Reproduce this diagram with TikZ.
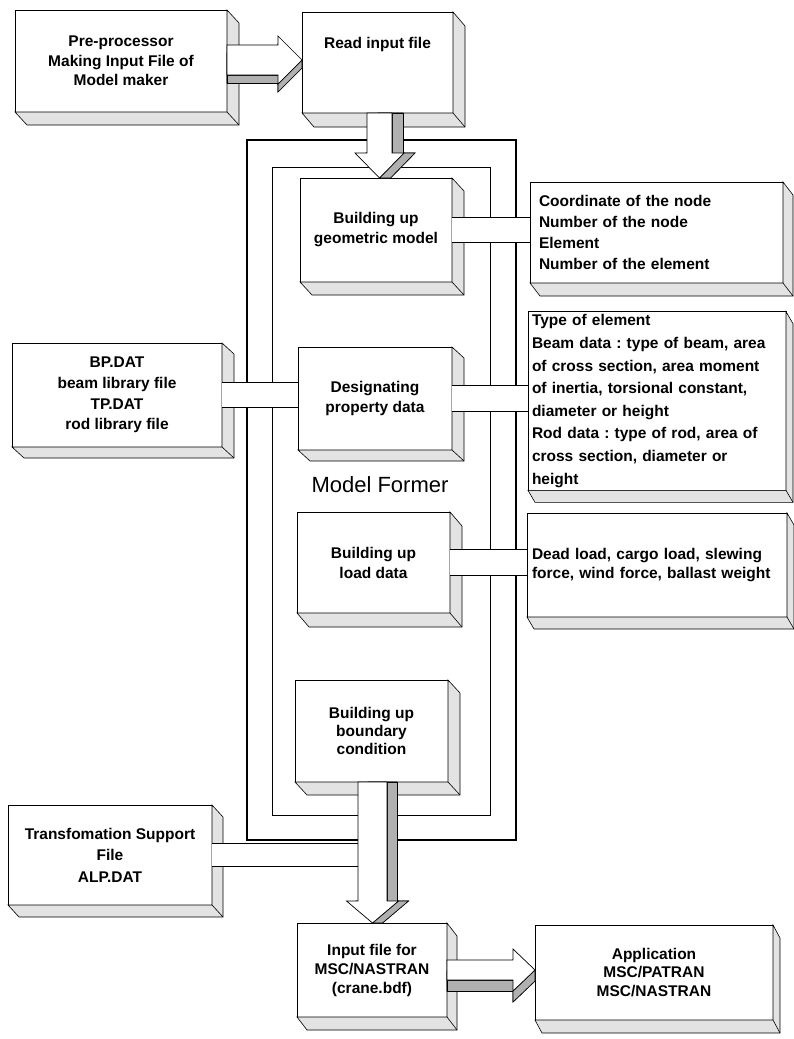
\documentclass[tikz,border=0pt]{standalone}
\usepackage{fontspec}
\setmainfont{Liberation Sans}
\usetikzlibrary{calc}
\frenchspacing
\tikzset{
  box/.style={draw=black, line width=0.9pt, fill=white, inner sep=3pt, outer sep=0pt,
    align=center, font=\bfseries\fontsize{15.5}{20}\selectfont},
  bls/.style={font=\bfseries\fontsize{15.5}{#1}\selectfont},
  extside/.style={fill=gray!22, draw=black, line width=0.6pt},
  arrdark/.style={fill=gray!62, draw=black, line width=0.6pt},
  arrfront/.style={fill=white, draw=black, line width=0.7pt},
  bandline/.style={draw=black, line width=0.8pt},
}
% 3D extrusion of a box node: right and bottom faces
\newcommand\extr[3]{%
  \filldraw[extside] (#1.north east) -- ++(#2,#3) -- ($(#1.south east)+(#2,#3)$)
    -- ($(#1.south west)+(#2,#3)$) -- (#1.south west) -- (#1.south east) -- cycle;
  \draw[line width=0.6pt] (#1.south east) -- ++(#2,#3);
}
% horizontal band connector between a node and a target
\newcommand\hband[3]{%
  \coordinate (ba) at ($(#1.east)+(0,-#3)$);
  \coordinate (bb) at ($(#1.east)+(0,#3)$);
  \fill[white] (ba) rectangle (bb -| #2);
  \draw[bandline] (ba) -- (ba -| #2) (bb) -- (bb -| #2);
}
% 3D block arrow pointing down
\newcommand\arrowD[7]{%
  \coordinate (T) at ($(#1)+(#7,0)$);
  \coordinate (A) at (#2 -| T);
  \coordinate (H) at ($(A)+(0,-#5)$);
  \coordinate (p1) at ($(T)+(-#3,0)$);
  \coordinate (p2) at ($(T)+(#3,0)$);
  \coordinate (p3) at ($(H)+(#3,0)$);
  \coordinate (p4) at ($(H)+(#4,0)$);
  \coordinate (p5) at (A);
  \coordinate (p6) at ($(H)+(-#4,0)$);
  \coordinate (p7) at ($(H)+(-#3,0)$);
  \coordinate (dd) at (#6,0);
  \filldraw[arrdark] ($(p1)+(dd)$) -- ($(p2)+(dd)$) -- ($(p3)+(dd)$) -- ($(p4)+(dd)$)
    -- ($(p5)+(dd)$) -- ($(p6)+(dd)$) -- ($(p7)+(dd)$) -- cycle;
  \filldraw[arrdark] (p2) -- ($(p2)+(dd)$) -- ($(p3)+(dd)$) -- (p3) -- cycle;
  \filldraw[arrdark] (p4) -- ($(p4)+(dd)$) -- ($(p5)+(dd)$) -- (p5) -- cycle;
  \filldraw[arrfront] (p1) -- (p2) -- (p3) -- (p4) -- (p5) -- (p6) -- (p7) -- cycle;
}
% 3D block arrow pointing right
\newcommand\arrowR[7]{%
  \coordinate (T) at ($(#1)+(0,#7)$);
  \coordinate (A) at (T -| #2);
  \coordinate (H) at ($(A)+(-#5,0)$);
  \coordinate (p1) at ($(T)+(0,-#3)$);
  \coordinate (p2) at ($(H)+(0,-#3)$);
  \coordinate (p3) at ($(H)+(0,-#4)$);
  \coordinate (p4) at (A);
  \coordinate (p5) at ($(H)+(0,#4)$);
  \coordinate (p6) at ($(H)+(0,#3)$);
  \coordinate (p7) at ($(T)+(0,#3)$);
  \coordinate (dd) at (0,#6);
  \filldraw[arrdark] ($(p1)+(dd)$) -- ($(p2)+(dd)$) -- ($(p3)+(dd)$) -- ($(p4)+(dd)$)
    -- ($(p5)+(dd)$) -- ($(p6)+(dd)$) -- ($(p7)+(dd)$) -- cycle;
  \filldraw[arrdark] (p6) -- ($(p6)+(dd)$) -- ($(p7)+(dd)$) -- (p7) -- cycle;
  \filldraw[arrdark] (p4) -- ($(p4)+(dd)$) -- ($(p5)+(dd)$) -- (p5) -- cycle;
  \filldraw[arrfront] (p1) -- (p2) -- (p3) -- (p4) -- (p5) -- (p6) -- (p7) -- cycle;
}
\begin{document}
\begin{tikzpicture}[x=1pt,y=-1pt]
\fill[white] (0,0) rectangle (794,1039);
\useasboundingbox (0,0) rectangle (794,1039);

% Model Former frame
\node[draw=black, line width=1.8pt, minimum width=269, minimum height=700, outer sep=0pt] (frameout) at (381.5,490) {};
\node[draw=black, line width=0.9pt, minimum width=218, minimum height=648, outer sep=0pt] (framein) at (381,491) {};

% boxes
\node[box, bls=19.5, minimum width=212, minimum height=102] (pre) at (121,61) {Pre-processor\\Making Input File of\\Model maker};
\node[box, minimum width=151, minimum height=101] (read) at (377.5,62.5) {};
\node[anchor=base, font=\bfseries\fontsize{15.5}{20}\selectfont] (readtxt) at (377.5,48) {Read input file};

\node[box, bls=20, minimum width=152, minimum height=104] (geo) at (376,230) {Building up\\geometric model};
\node[box, bls=20, minimum width=154, minimum height=103] (desig) at (375,398.5) {Designating\\property data};
\node[box, bls=20, minimum width=153, minimum height=101] (load) at (373.5,562.5) {Building up\\load data};
\node[box, bls=18, minimum width=153, minimum height=102] (bound) at (371.5,731) {Building up\\boundary\\condition};

\node[box, bls=21.3, align=left, text width=235, inner xsep=9pt, minimum width=253, minimum height=101] (coord) at (656.5,232.5)
  {Coordinate of the node\\Number of the node\\Element\\Number of the element};
\node[box, bls=22.6, align=left, text width=250, inner xsep=4pt, minimum width=258, minimum height=178] (type) at (657,401)
  {Type of element\\Beam data : type of beam, area\\of cross section, area moment\\of inertia, torsional constant,\\diameter or height\\Rod data : type of rod, area of\\cross section, diameter or\\height};
\node[box, bls=19.5, align=left, text width=250, inner xsep=5pt, minimum width=260, minimum height=104] (dead) at (657,565)
  {Dead load, cargo load, slewing\\force, wind force, ballast weight};

\node[box, bls=20.7, minimum width=210, minimum height=104] (bp) at (117,395) {BP.DAT\\beam library file\\TP.DAT\\rod library file};
\node[box, bls=21.5, minimum width=204, minimum height=100] (transf) at (110,855) {Transfomation Support\\File\\ALP.DAT};

\node[box, bls=19, minimum width=150, minimum height=94] (input) at (372,970) {Input file for\\MSC/NASTRAN\\(crane.bdf)};
\node[box, bls=18.5, minimum width=238, minimum height=95] (app) at (654,972.5) {Application\\MSC/PATRAN\\MSC/NASTRAN};

% extrusions
\extr{pre}{12}{13}
\extr{read}{12}{14}
\extr{geo}{12}{13}
\extr{desig}{12}{11}
\extr{load}{12}{14}
\extr{bound}{12}{13}
\extr{coord}{10}{13}
\extr{type}{7}{12}
\extr{dead}{7}{12}
\extr{bp}{12}{11}
\extr{transf}{11}{12}
\extr{input}{10}{13}
\extr{app}{7}{13}

% band connectors
\coordinate (shaftL) at ($(bound.south)+(-13.5,0)$);
\hband{geo}{coord.west}{12.5}
\hband{desig}{type.west}{13}
\hband{load}{dead.west}{13}
\hband{bp}{desig.west}{12.5}
\hband{transf}{shaftL}{11.5}

% block arrows
\arrowR{pre.east}{read.west}{15}{24}{24}{8}{-1}
\arrowD{read.south}{geo.north}{12.5}{24.5}{25}{11}{2}
\arrowD{bound.south}{input.north}{14.5}{26}{22}{10}{1}
\arrowR{input.east}{app.west}{10}{21}{22}{11}{0}

% frame label
\node[font=\fontsize{22}{26}\selectfont] (mf) at (380,485) {Model Former};
\end{tikzpicture}
\end{document}
